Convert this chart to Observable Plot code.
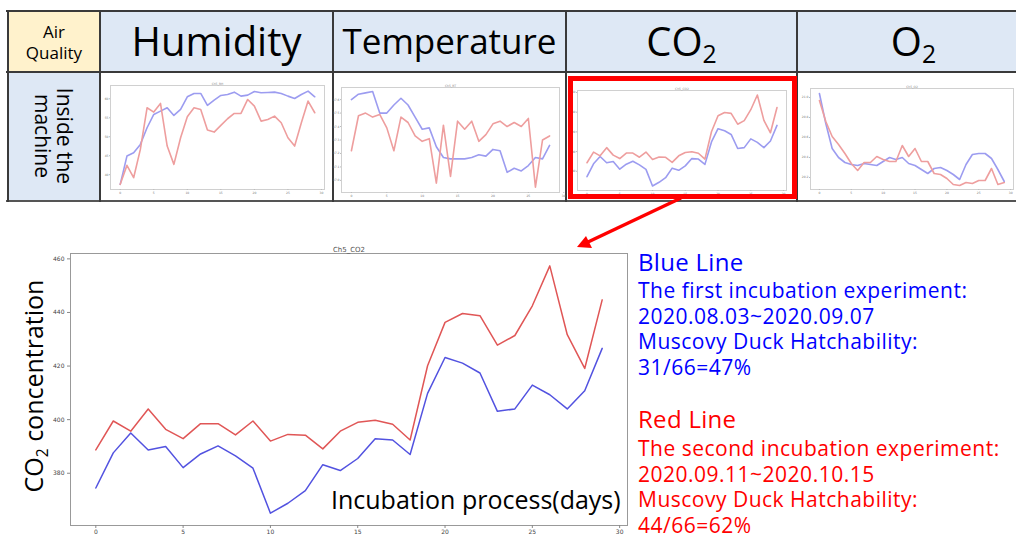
<!DOCTYPE html>
<html>
<head>
<meta charset="utf-8">
<script src="https://cdn.jsdelivr.net/npm/d3@7"></script>
<script src="https://cdn.jsdelivr.net/npm/@observablehq/plot@0.6"></script>
<style>
  html, body { margin: 0; padding: 0; background: #fff; }
  #page { position: relative; width: 1016px; height: 540px; overflow: hidden; background: #fff; font-family: "Open Sans", "Noto Sans", sans-serif; }
  .abs { position: absolute; }
  .cell { position: absolute; display: flex; align-items: center; justify-content: center; color: #000; }
  .hline { position: absolute; height: 2px; background: #3a3a3a; }
  .vline { position: absolute; width: 2px; background: #3a3a3a; }
  .leg { position: absolute; left: 638px; white-space: nowrap; line-height: 22px; height: 22px; }
  sub { font-size: 0.62em; vertical-align: -0.3em; line-height: 0; }
</style>
</head>
<body>
<div id="page"></div>
<script>
// ---------------- data ----------------
const days30 = [0,1,2,3,4,5,6,7,8,9,10,11,12,13,14,15,16,17,18,19,20,21,22,23,24,25,26,27,28,29];
const days29 = [0,1,2,3,4,5,6,7,8,9,10,11,12,13,14,15,16,17,18,19,20,21,22,23,24,25,26,27,28];

// Main chart: CO2 concentration (Ch5_CO2)
const co2Blue = [374.5,387.6,395.0,388.7,390.0,382.1,387.2,390.2,386.5,381.9,365.1,368.8,373.5,383.2,381.0,385.5,392.9,392.4,387.0,409.8,423.2,421.1,417.4,403.1,404.0,412.9,409.3,404.0,410.8,426.6];
const co2Red  = [388.7,399.5,395.7,404.0,396.4,392.9,398.5,398.5,394.3,399.5,392.0,394.5,394.2,389.1,395.7,399.0,399.8,398.3,392.4,420.1,436.3,439.6,438.8,427.8,431.4,442.5,457.4,431.7,419.1,444.7];
const co2XTicks = [0,5,10,15,20,25,30];
const co2YTicks = [380,400,420,440,460];

// Thumbnail: humidity
const humBlue = [37.46,44.91,45.79,47.98,52.37,55.88,56.75,57.63,55.61,57.19,60.53,61.40,61.40,58.25,59.65,60.88,61.14,61.75,60.70,60.96,61.93,61.58,61.67,61.75,61.40,60.70,60.09,61.14,62.02,60.53];
const humRed  = [37.46,42.46,39.21,46.67,57.63,56.49,58.77,47.54,42.72,49.74,55.26,57.63,57.19,51.75,51.23,52.98,54.74,56.14,56.14,59.82,58.07,54.12,54.56,55.44,53.68,49.74,47.54,53.68,59.39,56.32];
const humYTicks = [40,45,50,55,60];

// Thumbnail: temperature
const tempBlue = [37.60,37.64,37.65,37.66,37.50,37.50,37.56,37.61,37.56,37.47,37.38,37.39,37.25,37.17,37.16,37.16,37.16,37.17,37.19,37.18,37.23,37.22,37.06,37.09,37.07,37.11,37.17,37.16,37.26];
const tempRed  = [37.22,37.48,37.50,37.47,37.49,37.39,37.22,37.47,37.43,37.33,37.29,37.31,36.98,37.41,37.03,37.44,37.38,37.44,37.29,37.34,37.42,37.44,37.40,37.43,37.40,37.46,36.95,37.30,37.33];
const tempYTicks = [37.0,37.1,37.2,37.3,37.4,37.5,37.6];
const thumbXTicks = [0,5,10,15,20,25,30];

// Thumbnail: O2
const o2Blue = [21.04,20.74,20.49,20.40,20.35,20.33,20.32,20.34,20.33,20.32,20.36,20.40,20.38,20.40,20.34,20.32,20.28,20.24,20.29,20.30,20.27,20.23,20.18,20.33,20.43,20.44,20.44,20.39,20.28,20.16];
const o2Red  = [20.97,20.76,20.61,20.53,20.44,20.34,20.27,20.35,20.35,20.41,20.38,20.36,20.36,20.52,20.41,20.49,20.36,20.36,20.24,20.23,20.19,20.13,20.12,20.15,20.14,20.17,20.17,20.29,20.13,20.15];
const o2YTicks = [20.2,20.4,20.6,20.8,21.0];

const headers = ["Humidity", "Temperature", "CO", "O"];
const seriesNames = ["first", "second"];

// ---------------- helpers ----------------
const page = document.getElementById("page");
function el(tag, cls, style, html) {
  const e = document.createElement(tag);
  if (cls) e.className = cls;
  Object.assign(e.style, style || {});
  if (html != null) e.innerHTML = html;
  page.appendChild(e);
  return e;
}
function rowsOf(days, blue, red) {
  return days.map((d, i) => ({day: d, v: blue[i], s: seriesNames[0]}))
    .concat(days.map((d, i) => ({day: d, v: red[i], s: seriesNames[1]})));
}

// ---------------- table ----------------
el("div", "cell", {left: "8px", top: "11px", width: "92px", height: "61px", background: "#fff2cc", fontSize: "17px", lineHeight: "21px", textAlign: "center"}, "<span>Air<br>Quality</span>");
const colX = [100, 333, 566, 797, 1030];
const headerSize = ["40px", "35px", "40px", "40px"];
headers.forEach((h, i) => {
  const txt = "<span>" + h + (i >= 2 ? "<sub>2</sub>" : "") + "</span>";
  el("div", "cell", {left: colX[i] + "px", top: "11px", width: (colX[i+1] - colX[i]) + "px", height: "61px", background: "#dee8f5", fontSize: headerSize[i], lineHeight: "50px", paddingBottom: "2px", boxSizing: "border-box"}, txt);
});
el("div", "cell", {left: "8px", top: "72px", width: "92px", height: "128px", background: "#dee8f5"});
el("div", "abs", {left: "54px", top: "136px", width: "140px", transform: "translate(-50%,-50%) rotate(90deg)", fontSize: "21px", lineHeight: "22px", textAlign: "center", color: "#000", whiteSpace: "nowrap"}, "Inside the<br>machine");

// lines of the table
el("div", "hline", {left: "6px", top: "10px", width: "1010px"});
el("div", "hline", {left: "6px", top: "71px", width: "1010px"});
el("div", "hline", {left: "6px", top: "200px", width: "1010px", background: "#555"});
[7, 99, 332, 565, 796].forEach(x => el("div", "vline", {left: x + "px", top: "10px", height: "192px"}));

// ---------------- thumbnails ----------------
function thumb(cfg) {
  const p = Plot.plot({
    width: cfg.w, height: cfg.h,
    marginLeft: cfg.ml, marginRight: cfg.mr, marginTop: cfg.mt, marginBottom: cfg.mb,
    style: {fontFamily: "DejaVu Sans", fontSize: "3px", color: "#777", background: "transparent", overflow: "visible"},
    x: {domain: cfg.xd},
    y: {domain: cfg.yd},
    color: {domain: seriesNames, range: ["#9c9cf0", "#ee9e9e"]},
    marks: [
      Plot.frame({stroke: "#d0d0d0", strokeWidth: 1}),
      Plot.axisX({ticks: thumbXTicks, tickSize: 1, tickPadding: 1, label: null, stroke: "#bbb"}),
      Plot.axisY({ticks: cfg.yt, tickSize: 1, tickPadding: 1, label: null, stroke: "#bbb"}),
      Plot.lineY(cfg.rows, {x: "day", y: "v", z: "s", stroke: "s", strokeWidth: 1.6}),
      Plot.text([cfg.title], {frameAnchor: "top", dy: -3, text: d => d, fill: "#888", fontSize: 3})
    ]
  });
  p.style.position = "absolute";
  p.style.left = cfg.left + "px";
  p.style.top = cfg.top + "px";
  page.appendChild(p);
}
thumb({left: 104, top: 78, w: 226, h: 118, ml: 6, mr: 6, mt: 7, mb: 7, xd: [-1.45, 30.45], yd: [36.1, 63.5], yt: humYTicks, rows: rowsOf(days30, humBlue, humRed), title: "Ch5_RH"});
thumb({left: 336, top: 78, w: 228, h: 120, ml: 5, mr: 5, mt: 9, mb: 6, xd: [-1.4, 29.4], yd: [36.91, 37.69], yt: tempYTicks, rows: rowsOf(days29, tempBlue, tempRed), title: "Ch5_RT"});
thumb({left: 573, top: 81, w: 218, h: 113, ml: 4, mr: 5, mt: 9, mb: 4, xd: [-1.45, 30.45], yd: [360.5, 462], yt: co2YTicks, rows: rowsOf(days30, co2Blue, co2Red), title: "Ch5_CO2"});
thumb({left: 800, top: 78, w: 216, h: 120, ml: 10, mr: 3, mt: 10, mb: 9, xd: [-1.4, 30.45], yd: [20.08, 21.09], yt: o2YTicks, rows: rowsOf(days30, o2Blue, o2Red), title: "Ch5_O2"});

// red highlight box around CO2 thumbnail
el("div", "abs", {left: "568px", top: "76px", width: "229px", height: "123px", boxSizing: "border-box", border: "5px solid #ff0000"});

// ---------------- main chart ----------------
const main = Plot.plot({
  width: 640, height: 300,
  marginLeft: 70, marginRight: 13, marginTop: 13, marginBottom: 15,
  style: {fontFamily: "DejaVu Sans", fontSize: "6px", color: "#444", background: "transparent", overflow: "visible"},
  x: {domain: [-1.45, 30.45]},
  y: {domain: [360.5, 462]},
  color: {domain: seriesNames, range: ["#5252e0", "#e05656"]},
  marks: [
    Plot.frame({stroke: "#999", strokeWidth: 1}),
    Plot.axisX({ticks: co2XTicks, tickSize: 3, tickPadding: 1, label: null, stroke: "#888", fill: "#444"}),
    Plot.axisY({ticks: co2YTicks, tickSize: 3, tickPadding: 3, label: null, stroke: "#888", fill: "#444"}),
    Plot.lineY(rowsOf(days30, co2Blue, co2Red), {x: "day", y: "v", z: "s", stroke: "s", strokeWidth: 1.5}),
    Plot.text(["Ch5_CO2"], {frameAnchor: "top", dy: -6, text: d => d, fill: "#555", fontSize: 7})
  ]
});
main.style.position = "absolute";
main.style.left = "0px";
main.style.top = "240px";
page.appendChild(main);

// axis titles (large slide text)
el("div", "abs", {left: "33px", top: "386px", transform: "translate(-50%,-50%) rotate(-90deg)", fontSize: "25px", lineHeight: "30px", whiteSpace: "nowrap", color: "#000"}, "CO<sub>2</sub> concentration");
el("div", "abs", {left: "331px", top: "484px", fontSize: "25px", lineHeight: "30px", whiteSpace: "nowrap", color: "#000"}, "Incubation process(days)");

// arrow
const svgNS = "http://www.w3.org/2000/svg";
const arr = document.createElementNS(svgNS, "svg");
arr.setAttribute("width", "1016"); arr.setAttribute("height", "540");
arr.style.position = "absolute"; arr.style.left = "0"; arr.style.top = "0"; arr.style.pointerEvents = "none";
arr.innerHTML = '<line x1="681" y1="198" x2="588" y2="242" stroke="#ff0000" stroke-width="3.5"/>' +
  '<polygon points="577,247 586,236 592,248" fill="#ff0000"/>';
page.appendChild(arr);

// ---------------- legend text ----------------
const blueLines = ["The first incubation experiment:", "2020.08.03~2020.09.07", "Muscovy Duck Hatchability:", "31/66=47%"];
const redLines = ["The second incubation experiment:", "2020.09.11~2020.10.15", "Muscovy Duck Hatchability:", "44/66=62%"];
const legLine = {fontSize: "21px", letterSpacing: "0.5px"};
el("div", "leg", {top: "251px", fontSize: "24px", letterSpacing: "0.3px", color: "#0000ff"}, "Blue Line");
blueLines.forEach((t, i) => el("div", "leg", Object.assign({top: (279 + i * 25.7) + "px", color: "#0000ff"}, legLine), t));
el("div", "leg", {top: "408px", fontSize: "24px", letterSpacing: "0.3px", color: "#ff0000"}, "Red Line");
redLines.forEach((t, i) => el("div", "leg", Object.assign({top: (437 + i * 25.7) + "px", color: "#ff0000"}, legLine), t));
</script>
</body>
</html>
